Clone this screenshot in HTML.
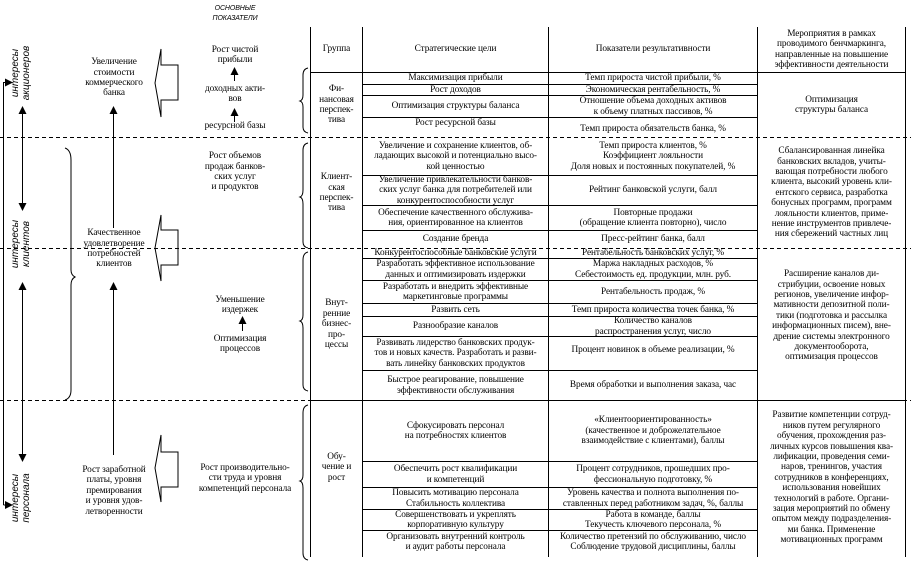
<!DOCTYPE html>
<html><head><meta charset="utf-8"><style>
body{margin:0;width:911px;height:564px;background:#fff;position:relative;overflow:hidden;font-family:"Liberation Serif",serif;color:#000}
.c{position:absolute;display:flex;align-items:center;justify-content:center;text-align:center;font-size:9.3px;line-height:10.4px;letter-spacing:-0.1px;white-space:nowrap}
.r{position:absolute;font-size:10px;line-height:11px;transform:rotate(-90deg);transform-origin:center;text-align:center;white-space:nowrap;font-family:"Liberation Sans",sans-serif;font-style:italic}
svg{position:absolute;left:0;top:0}
</style></head><body>
<svg width="911" height="564">
<defs><marker id="a" markerWidth="8" markerHeight="8" refX="7" refY="4" orient="auto" markerUnits="userSpaceOnUse"><path d="M0,0L8,4L0,8z" fill="#000"/></marker></defs>
<g stroke="#000" stroke-width="1" fill="none">
<line x1="310.5" y1="27" x2="310.5" y2="557"/>
<line x1="362.5" y1="27" x2="362.5" y2="557"/>
<line x1="548.5" y1="27" x2="548.5" y2="557"/>
<line x1="757.5" y1="27" x2="757.5" y2="557"/>
<line x1="905.5" y1="27" x2="905.5" y2="557"/>
<line x1="310" y1="72.5" x2="906" y2="72.5"/>
<path d="M362 84.5H757M362 95.5H757M362 117.5H757
M362 175.5H757M362 205.5H757M362 230.5H757
M362 258.5H757M362 280.5H757M362 303.5H757M362 316.5H757M362 336.5H757M362 370.5H757
M310 400.5H906M362 461.5H757M362 487.5H757M362 509.5H757M362 530.5H757"/>
</g>
<g stroke="#000" stroke-dasharray="4,3" fill="none">
<line x1="0" y1="137.5" x2="911" y2="137.5"/>
<line x1="0" y1="248.5" x2="911" y2="248.5"/>
<line x1="0" y1="400.5" x2="911" y2="400.5"/>
</g>
<g stroke="#000" fill="none" stroke-width="1">
<path d="M3.5 505V82.5H12" marker-end="url(#a)"/>
<path d="M3.5 505H12" marker-end="url(#a)"/>
<line x1="22.5" y1="112" x2="22.5" y2="210" marker-end="url(#a)"/>
<line x1="22.5" y1="205" x2="22.5" y2="107" marker-end="url(#a)"/>
<line x1="22.5" y1="290" x2="22.5" y2="461" marker-end="url(#a)"/>
<line x1="22.5" y1="455" x2="22.5" y2="283" marker-end="url(#a)"/>
<line x1="113.5" y1="228" x2="113.5" y2="107" marker-end="url(#a)"/>
<line x1="113.5" y1="455" x2="113.5" y2="283" marker-end="url(#a)"/>
<line x1="234.5" y1="81" x2="234.5" y2="68" marker-end="url(#a)"/>
<line x1="234.5" y1="122" x2="234.5" y2="109" marker-end="url(#a)"/>
<line x1="242.5" y1="331" x2="242.5" y2="317" marker-end="url(#a)"/>
<path d="M161 49V65H178V100H161V117L155 83Z"/>
<path d="M161 215V230H178V265H161V281L155 248Z"/>
<path d="M161 435V452H178V487H161V502L155 468Z"/>
<path d="M65 148Q71 150 71 160V270Q71 275 75 277Q71 279 71 285V390Q71 398 65 400"/>
<path d="M308 68Q303 69 303 75V95Q303 100 300 101Q303 102 303 107V127Q303 132 308 133"/>
<path d="M308 143Q303 144 303 150V190Q303 196 300 197Q303 198 303 204V242Q303 247 308 248"/>
<path d="M308 252Q303 253 303 260V315Q303 320 300 321Q303 322 303 328V385Q303 390 308 391"/>
<path d="M308 405Q303 406 303 413V475Q303 480 300 481Q303 482 303 488V553Q303 559 308 560"/>
</g>
</svg>

<div class="r" style="left:-14px;top:62px;width:70px">интересы<br>акционеров</div>
<div class="r" style="left:-14px;top:233px;width:70px">интересы<br>клиентов</div>
<div class="r" style="left:-14px;top:487px;width:70px">интересы<br>персонала</div>

<div class="c" style="left:200px;top:2px;width:70px;height:24px;font-family:'Liberation Sans',sans-serif;font-style:italic;font-size:7px;line-height:10px">ОСНОВНЫЕ<br>ПОКАЗАТЕЛИ</div>

<div class="c" style="left:70px;top:55px;width:88px;height:46px">Увеличение<br>стоимости<br>коммерческого<br>банка</div>
<div class="c" style="left:70px;top:226px;width:88px;height:46px">Качественное<br>удовлетворение<br>потребностей<br>клиентов</div>
<div class="c" style="left:65px;top:462px;width:98px;height:58px">Рост заработной<br>платы, уровня<br>премирования<br>и уровня удов-<br>летворенности</div>

<div class="c" style="left:195px;top:44px;width:80px;height:22px">Рост чистой<br>прибыли</div>
<div class="c" style="left:195px;top:83px;width:80px;height:22px">доходных акти-<br>вов</div>
<div class="c" style="left:195px;top:120px;width:80px;height:12px">ресурсной базы</div>
<div class="c" style="left:190px;top:150px;width:90px;height:44px">Рост объемов<br>продаж банков-<br>ских услуг<br>и продуктов</div>
<div class="c" style="left:200px;top:294px;width:80px;height:22px">Уменьшение<br>издержек</div>
<div class="c" style="left:200px;top:333px;width:80px;height:22px">Оптимизация<br>процессов</div>
<div class="c" style="left:190px;top:462px;width:110px;height:33px">Рост производительно-<br>сти труда и уровня<br>компетенций персонала</div>

<div class="c" style="left:311px;top:27px;width:51px;height:45px">Группа</div>
<div class="c" style="left:363px;top:27px;width:185px;height:45px">Стратегические цели</div>
<div class="c" style="left:549px;top:27px;width:208px;height:45px">Показатели результативности</div>
<div class="c" style="left:758px;top:27px;width:147px;height:45px">Мероприятия в рамках<br>проводимого бенчмаркинга,<br>направленные на повышение<br>эффективности деятельности</div>

<div class="c" style="left:311px;top:73px;width:51px;height:64px">Фи-<br>нансовая<br>перспек-<br>тива</div>
<div class="c" style="left:363px;top:73px;width:185px;height:11px">Максимизация прибыли</div>
<div class="c" style="left:549px;top:73px;width:208px;height:11px">Темп прироста чистой прибыли, %</div>
<div class="c" style="left:363px;top:85px;width:185px;height:10px">Рост доходов</div>
<div class="c" style="left:549px;top:85px;width:208px;height:10px">Экономическая рентабельность, %</div>
<div class="c" style="left:363px;top:96px;width:185px;height:21px">Оптимизация структуры баланса</div>
<div class="c" style="left:549px;top:96px;width:208px;height:21px">Отношение объема доходных активов<br>к объему платных пассивов, %</div>
<div class="c" style="left:363px;top:118px;width:185px;height:11px">Рост ресурсной базы</div>
<div class="c" style="left:549px;top:122px;width:208px;height:15px">Темп прироста обязательств банка, %</div>
<div class="c" style="left:758px;top:73px;width:147px;height:64px">Оптимизация<br>структуры баланса</div>

<div class="c" style="left:311px;top:138px;width:51px;height:110px">Клиент-<br>ская<br>перспек-<br>тива</div>
<div class="c" style="left:363px;top:138px;width:185px;height:37px">Увеличение  и сохранение клиентов, об-<br>ладающих высокой и потенциально высо-<br>кой ценностью</div>
<div class="c" style="left:549px;top:138px;width:208px;height:37px">Темп прироста клиентов, %<br>Коэффициент лояльности<br>Доля новых и постоянных покупателей, %</div>
<div class="c" style="left:363px;top:176px;width:185px;height:29px">Увеличение  привлекательности банков-<br>ских услуг  банка  для потребителей или<br>конкурентоспособности услуг</div>
<div class="c" style="left:549px;top:176px;width:208px;height:29px">Рейтинг банковской услуги, балл</div>
<div class="c" style="left:363px;top:206px;width:185px;height:24px">Обеспечение качественного обслужива-<br>ния, ориентированное на клиентов</div>
<div class="c" style="left:549px;top:206px;width:208px;height:24px">Повторные продажи<br>(обращение клиента повторно), число</div>
<div class="c" style="left:363px;top:231px;width:185px;height:17px">Создание бренда</div>
<div class="c" style="left:549px;top:231px;width:208px;height:17px">Пресс-рейтинг банка, балл</div>
<div class="c" style="left:758px;top:138px;width:147px;height:110px">Сбалансированная линейка<br>банковских вкладов, учиты-<br>вающая потребности любого<br>клиента, высокий уровень кли-<br>ентского сервиса, разработка<br>бонусных программ, программ<br>лояльности клиентов, приме-<br>нение инструментов привлече-<br>ния сбережений частных лиц</div>

<div class="c" style="left:311px;top:249px;width:51px;height:151px">Внут-<br>ренние<br>бизнес-<br>про-<br>цессы</div>
<div class="c" style="left:363px;top:249px;width:185px;height:9px">Конкурентоспособные банковские услуги</div>
<div class="c" style="left:549px;top:249px;width:208px;height:9px">Рентабельность банковских услуг, %</div>
<div class="c" style="left:363px;top:259px;width:185px;height:21px">Разработать эффективное использование<br>данных и оптимизировать издержки</div>
<div class="c" style="left:549px;top:259px;width:208px;height:21px">Маржа накладных расходов, %<br>Себестоимость ед. продукции, млн. руб.</div>
<div class="c" style="left:363px;top:281px;width:185px;height:22px">Разработать и внедрить эффективные<br>маркетинговые программы</div>
<div class="c" style="left:549px;top:281px;width:208px;height:22px">Рентабельность продаж, %</div>
<div class="c" style="left:363px;top:304px;width:185px;height:12px">Развить сеть</div>
<div class="c" style="left:549px;top:304px;width:208px;height:12px">Темп прироста количества точек банка, %</div>
<div class="c" style="left:363px;top:317px;width:185px;height:19px">Разнообразие каналов</div>
<div class="c" style="left:549px;top:317px;width:208px;height:19px">Количество каналов<br>распространения услуг, число</div>
<div class="c" style="left:363px;top:337px;width:185px;height:33px">Развивать лидерство банковских продук-<br>тов и новых качеств. Разработать и разви-<br>вать линейку банковских продуктов</div>
<div class="c" style="left:549px;top:337px;width:208px;height:26px">Процент новинок в объеме реализации, %</div>
<div class="c" style="left:363px;top:371px;width:185px;height:29px">Быстрое реагирование, повышение<br>эффективности обслуживания</div>
<div class="c" style="left:549px;top:371px;width:208px;height:29px">Время обработки и выполнения  заказа, час</div>
<div class="c" style="left:758px;top:249px;width:147px;height:134px">Расширение каналов ди-<br>стрибуции, освоение новых<br>регионов, увеличение инфор-<br>мативности депозитной поли-<br>тики (подготовка и рассылка<br>информационных писем), вне-<br>дрение системы электронного<br>документооборота,<br>оптимизация процессов</div>

<div class="c" style="left:311px;top:401px;width:51px;height:133px">Обу-<br>чение и<br>рост</div>
<div class="c" style="left:363px;top:401px;width:185px;height:60px">Сфокусировать персонал<br>на потребностях клиентов</div>
<div class="c" style="left:549px;top:401px;width:208px;height:60px">«Клиентоориентированность»<br>(качественное и доброжелательное<br>взаимодействие с клиентами), баллы</div>
<div class="c" style="left:363px;top:462px;width:185px;height:25px">Обеспечить рост квалификации<br>и компетенций</div>
<div class="c" style="left:549px;top:462px;width:208px;height:25px">Процент сотрудников, прошедших про-<br>фессиональную подготовку, %</div>
<div class="c" style="left:363px;top:488px;width:185px;height:21px">Повысить мотивацию персонала<br>Стабильность коллектива</div>
<div class="c" style="left:549px;top:488px;width:208px;height:21px">Уровень качества и полнота выполнения по-<br>ставленных перед работником задач, %, баллы</div>
<div class="c" style="left:363px;top:510px;width:185px;height:20px">Совершенствовать и укреплять<br>корпоративную культуру</div>
<div class="c" style="left:549px;top:510px;width:208px;height:20px">Работа в команде, баллы<br>Текучесть ключевого персонала, %</div>
<div class="c" style="left:363px;top:531px;width:185px;height:22px">Организовать внутренний контроль<br>и аудит работы персонала</div>
<div class="c" style="left:549px;top:531px;width:208px;height:22px">Количество претензий по обслуживанию, число<br>Соблюдение трудовой дисциплины, баллы</div>
<div class="c" style="left:758px;top:403px;width:147px;height:150px">Развитие компетенции сотруд-<br>ников путем регулярного<br>обучения, прохождения раз-<br>личных курсов повышения ква-<br>лификации, проведения семи-<br>наров, тренингов, участия<br>сотрудников в конференциях,<br>использования новейших<br>технологий в работе. Органи-<br>зация мероприятий по обмену<br>опытом между подразделения-<br>ми банка. Применение<br>мотивационных программ</div>
</body></html>
